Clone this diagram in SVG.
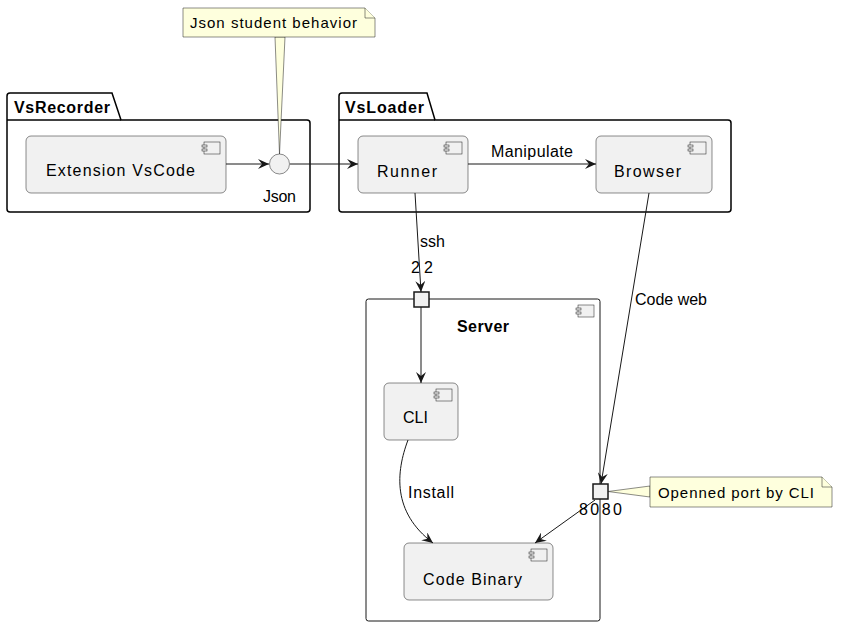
<svg xmlns="http://www.w3.org/2000/svg" width="841" height="627" viewBox="0 0 841 627">
<style>
text{font-family:"Liberation Sans",Arial,Helvetica,sans-serif;fill:#000;font-size:16px}
.b{font-weight:bold}
.n{font-size:15px}
.l{font-size:16px}
.pkg{fill:#fff;stroke:#000;stroke-width:1.5}
.comp{fill:#F1F1F1;stroke:#181818;stroke-width:0.5}
.ico{fill:#F1F1F1;stroke:#181818;stroke-width:0.5}
.port{fill:#F1F1F1;stroke:#181818;stroke-width:1.5}
.note{fill:#FEFFDD;stroke:#181818;stroke-width:0.5}
.e{fill:none;stroke:#181818;stroke-width:1}
</style>
<defs>
<marker id="arr" viewBox="0 0 11 10" markerWidth="11" markerHeight="10" refX="11" refY="5" orient="auto" markerUnits="userSpaceOnUse">
<path d="M0,0 L11,5 L0,10 L4,5 Z" fill="#181818"/>
</marker>
<g id="icon">
<rect class="ico" x="-22" y="6" width="16" height="12"/>
<rect class="ico" x="-24" y="9" width="5" height="2"/>
<rect class="ico" x="-24" y="13" width="5" height="2"/>
</g>
</defs>

<g id="VsRecorder">
<path class="pkg" d="M10,93 L112,93 L121,120 L307,120 Q310,120 310,123 L310,209 Q310,212 307,212 L10,212 Q7,212 7,209 L7,96 Q7,93 10,93 Z"/>
<path class="pkg" d="M7,120 L121,120"/>
<text class="b" x="14" y="113" textLength="96" lengthAdjust="spacing">VsRecorder</text>
</g>

<g id="VsLoader">
<path class="pkg" d="M342,93 L427,93 L435,120 L728,120 Q731,120 731,123 L731,209 Q731,212 728,212 L342,212 Q339,212 339,209 L339,96 Q339,93 342,93 Z"/>
<path class="pkg" d="M339,120 L435,120"/>
<text class="b" x="345" y="113" textLength="79" lengthAdjust="spacing">VsLoader</text>
</g>

<g id="Server">
<rect x="366" y="299" width="234" height="322" rx="2.5" fill="#fff" stroke="#181818" stroke-width="1"/>
<use href="#icon" x="600" y="299"/>
<text class="b" x="457" y="332" textLength="52" lengthAdjust="spacing">Server</text>
</g>

<g id="ExtensionVsCode">
<rect class="comp" x="26" y="136" width="200" height="57" rx="5"/>
<use href="#icon" x="226" y="136"/>
<text x="46" y="176" textLength="149" lengthAdjust="spacing">Extension VsCode</text>
</g>

<g id="Json">
<circle cx="279.5" cy="164" r="10" fill="#F1F1F1" stroke="#181818" stroke-width="0.5"/>
<text x="263" y="202" textLength="33" lengthAdjust="spacing">Json</text>
</g>

<g id="Runner">
<rect class="comp" x="358" y="136" width="110" height="57" rx="5"/>
<use href="#icon" x="468" y="136"/>
<text x="377" y="177" textLength="60" lengthAdjust="spacing">Runner</text>
</g>

<g id="Browser">
<rect class="comp" x="596" y="136" width="116" height="57" rx="5"/>
<use href="#icon" x="712" y="136"/>
<text x="614" y="177" textLength="67" lengthAdjust="spacing">Browser</text>
</g>

<g id="CLI">
<rect class="comp" x="384" y="383" width="74" height="57" rx="5"/>
<use href="#icon" x="458" y="383"/>
<text x="403" y="423" textLength="25" lengthAdjust="spacing">CLI</text>
</g>

<g id="CodeBinary">
<rect class="comp" x="404" y="543" width="149" height="57" rx="5"/>
<use href="#icon" x="553" y="543"/>
<text x="423" y="585" textLength="99" lengthAdjust="spacing">Code Binary</text>
</g>

<g id="connectors">
<path class="e" d="M226,164 L269,164" marker-end="url(#arr)"/>
<path class="e" d="M290,164 L358,164" marker-end="url(#arr)"/>
<path class="e" d="M468,164 L596,164" marker-end="url(#arr)"/>
<text class="l" x="491" y="157" textLength="82" lengthAdjust="spacing">Manipulate</text>
<path class="e" d="M415,193 L421,292" marker-end="url(#arr)"/>
<text class="l" x="420" y="247" textLength="25" lengthAdjust="spacing">ssh</text>
<path class="e" d="M421,307 L421,383" marker-end="url(#arr)"/>
<path class="e" d="M649,193 L601,484" marker-end="url(#arr)"/>
<text class="l" x="635" y="305" textLength="72" lengthAdjust="spacing">Code web</text>
<path class="e" d="M408,440 C396,472 392,512 433,543" marker-end="url(#arr)"/>
<text class="l" x="408" y="498" textLength="46" lengthAdjust="spacing">Install</text>
<path class="e" d="M595,500 L535,543" marker-end="url(#arr)"/>
</g>

<g id="port22">
<rect class="port" x="414" y="292" width="15" height="15"/>
<text class="l" x="411" y="273" textLength="22" lengthAdjust="spacing">22</text>
</g>

<g id="port8080">
<rect class="port" x="593" y="484" width="15" height="15"/>
<text class="l" x="579" y="515" textLength="43" lengthAdjust="spacing">8080</text>
</g>

<g id="noteJson">
<path class="note" d="M275,37 L279.5,154 L285,37 Z"/>
<path class="note" d="M183,8 L365,8 L375,18 L375,37 L183,37 Z"/>
<path class="note" d="M365,8 L365,18 L375,18" fill="none"/>
<text class="n" x="190" y="28" textLength="167" lengthAdjust="spacing">Json student behavior</text>
</g>

<g id="notePort">
<path class="note" d="M650,486 L608,491.5 L650,497 Z"/>
<path class="note" d="M650,477 L822,477 L832,487 L832,507 L650,507 Z"/>
<path class="note" d="M822,477 L822,487 L832,487" fill="none"/>
<text class="n" x="658" y="498" textLength="156" lengthAdjust="spacing">Openned port by CLI</text>
</g>
</svg>
